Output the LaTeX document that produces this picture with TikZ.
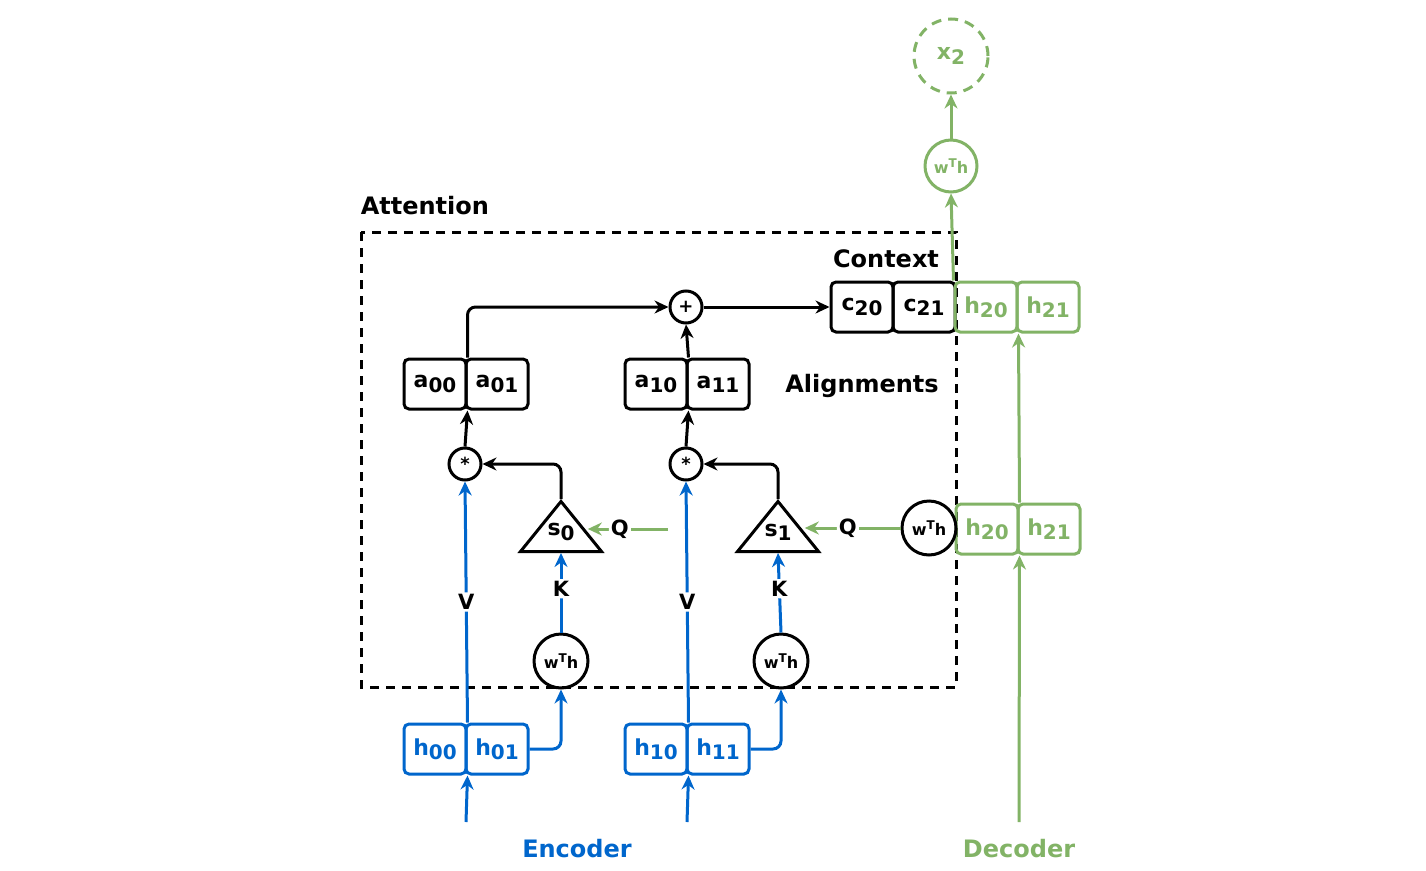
\documentclass[tikz,border=0pt]{standalone}
\usepackage{fontspec}
\setmainfont{DejaVu Sans}
\usetikzlibrary{arrows.meta,shapes.geometric}
\definecolor{eb}{HTML}{0066CC}
\definecolor{dg}{HTML}{82B366}
\newcommand{\lsub}[1]{\raisebox{-0.35ex}{\fontsize{20}{20}\selectfont #1}}
\newcommand{\wth}{w\raisebox{0.6ex}{\fontsize{12}{12}\selectfont T}h}
\begin{document}
\begin{tikzpicture}[x=1pt,y=-1pt,line width=3pt,
  box/.style={draw,rounded corners=5pt,minimum width=62pt,minimum height=50pt,inner sep=0pt,font=\bfseries\fontsize{22}{22}\selectfont},
  circ/.style={draw,circle,inner sep=0pt,minimum size=#1},
  arr/.style={-{Stealth[length=14pt,width=13pt]},rounded corners=8pt},
  lab/.style={font=\bfseries\fontsize{21}{21}\selectfont,fill=white,inner sep=2pt},
  ttl/.style={font=\bfseries\fontsize{24}{24}\selectfont},
  tri/.style={draw,isosceles triangle,shape border rotate=90,isosceles triangle apex angle=78,minimum width=81pt,minimum height=50pt,inner sep=0pt,fill=white}]
\useasboundingbox (0,0) rectangle (1426,870);
\draw[dashed,dash pattern=on 9pt off 7pt] (361,232) rectangle (956,687);
\node[ttl,anchor=west] (tatt) at (356,206) {Attention};
\node[ttl] (tctx) at (886,259) {Context};
\node[ttl] (tal) at (862,386) {Alignments};
\node[ttl,text=eb] (tenc) at (577,849) {Encoder};
\node[ttl,text=dg] (tdec) at (1019,849) {Decoder};
% alignment boxes
\node[box] (a00) at (435,384) {a\lsub{00}};
\node[box] (a01) at (497,384) {a\lsub{01}};
\node[box] (a10) at (656,384) {a\lsub{10}};
\node[box] (a11) at (718,384) {a\lsub{11}};
\node[box] (c20) at (862,307) {c\lsub{20}};
\node[box] (c21) at (924,307) {c\lsub{21}};
\begin{scope}[dg]
\node[box] (h20u) at (986,307) {h\lsub{20}};
\node[box] (h21u) at (1048,307) {h\lsub{21}};
\node[box] (h20l) at (987,529) {h\lsub{20}};
\node[box] (h21l) at (1049,529) {h\lsub{21}};
\node[circ=52pt,font=\bfseries\fontsize{16}{16}\selectfont] (wg) at (951,166) {\wth};
\node[circ=74pt,dashed,dash pattern=on 10pt off 7pt,font=\bfseries\fontsize{22}{22}\selectfont] (x2) at (951,56) {x\lsub{2}};
\end{scope}
\begin{scope}[eb]
\node[box] (h00) at (435,749) {h\lsub{00}};
\node[box] (h01) at (497,749) {h\lsub{01}};
\node[box] (h10) at (656,749) {h\lsub{10}};
\node[box] (h11) at (718,749) {h\lsub{11}};
\end{scope}
\node[circ=32pt,font=\bfseries\fontsize{18}{18}\selectfont] (plus) at (686,307) {+};
\node[circ=32pt,font=\bfseries\fontsize{18}{18}\selectfont] (m0) at (465,464) {*};
\node[circ=32pt,font=\bfseries\fontsize{18}{18}\selectfont] (m1) at (686,464) {*};
\node[tri,anchor=south] (s0) at (561,553) {};
\node[tri,anchor=south] (s1) at (778,553) {};
\node[font=\bfseries\fontsize{22}{22}\selectfont] (s0t) at (561,532) {s\lsub{0}};
\node[font=\bfseries\fontsize{22}{22}\selectfont] (s1t) at (778,532) {s\lsub{1}};
\node[circ=54pt,font=\bfseries\fontsize{16}{16}\selectfont] (w0) at (561,661) {\wth};
\node[circ=54pt,font=\bfseries\fontsize{16}{16}\selectfont] (w1) at (781,661) {\wth};
\node[circ=54pt,font=\bfseries\fontsize{16}{16}\selectfont] (wq) at (929,528) {\wth};
\coordinate (e0) at (466,822);
\coordinate (e1) at (687,822);
\coordinate (d0) at (1019,822);
\coordinate (qs) at (668,529);
% black arrows
\draw[arr] (a00.north east) |- (plus.west);
\draw[arr] (a10.north east) -- (plus.south);
\draw[arr] (plus.east) -- (c20.west);
\draw[arr] (m0.north) -- (a00.south east);
\draw[arr] (m1.north) -- (a10.south east);
\draw[arr] (s0.apex) |- (m0.east);
\draw[arr] (s1.apex) |- (m1.east);
% blue
\begin{scope}[eb]
\draw[arr] (e0) -- (h00.south east);
\draw[arr] (e1) -- (h10.south east);
\draw[arr] (h00.north east) -- node[lab,text=black]{V} (m0.south);
\draw[arr] (h10.north east) -- node[lab,text=black]{V} (m1.south);
\draw[arr] (h01.east) -| (w0.south);
\draw[arr] (h11.east) -| (w1.south);
\draw[arr] (w0.north) -- node[lab,text=black,pos=0.55]{K} (s0.south);
\draw[arr] (w1.north) -- node[lab,text=black,pos=0.55]{K} (s1.south);
\end{scope}
% green
\begin{scope}[dg]
\draw[arr] (qs) -- node[lab,text=black,pos=0.6]{Q} (s0.east |- qs);
\draw[arr] (wq.west) -- node[lab,text=black,pos=0.55]{Q} (s1.east |- wq.west);
\draw[arr] (d0) -- (h20l.south east);
\draw[arr] (h20l.north east) -- (h20u.south east);
\draw[arr] (h20u.north west) -- (wg.south);
\draw[arr] (wg.north) -- (x2.south);
\end{scope}
\end{tikzpicture}
\end{document}
